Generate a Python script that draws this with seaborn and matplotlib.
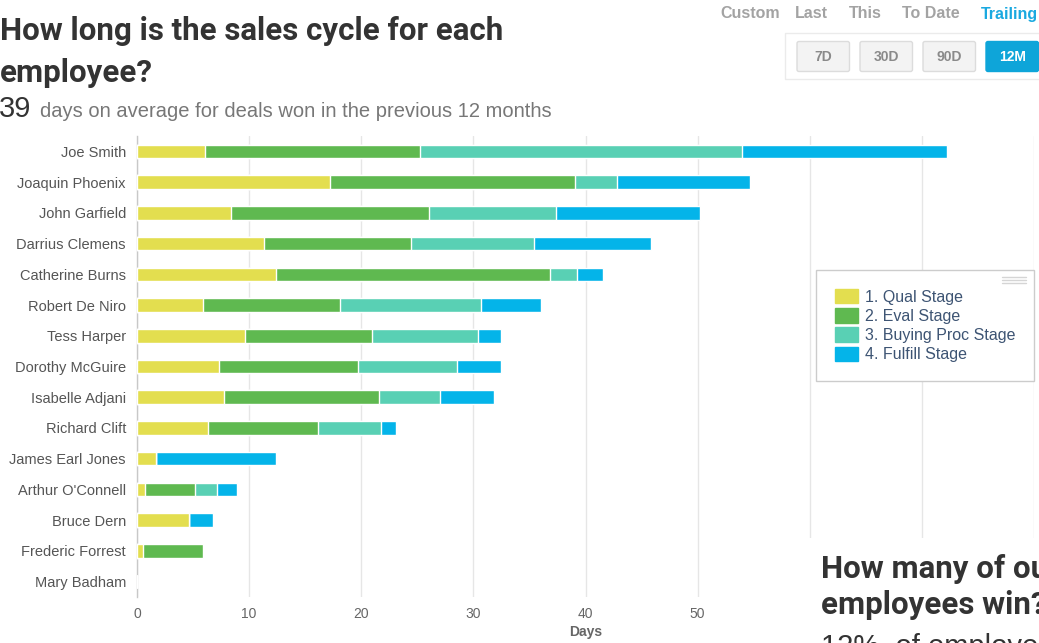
import matplotlib
matplotlib.use("Agg")
import matplotlib.pyplot as plt
from matplotlib.patches import Patch, FancyBboxPatch, Rectangle
from matplotlib.lines import Line2D
from matplotlib.transforms import Affine2D
import numpy as np
import pandas as pd
import seaborn as sns

# ---- data -------------------------------------------------------------
employees = [
    "Joe Smith", "Joaquin Phoenix", "John Garfield", "Darrius Clemens",
    "Catherine Burns", "Robert De Niro", "Tess Harper", "Dorothy McGuire",
    "Isabelle Adjani", "Richard Clift", "James Earl Jones", "Arthur O'Connell",
    "Bruce Dern", "Frederic Forrest", "Mary Badham",
]
qual_days = [6.1, 17.2, 8.4, 11.3, 12.4, 5.9, 9.6, 7.3, 7.8, 6.3, 1.7, 0.7, 4.6, 0.5, 0]
eval_days = [19.1, 21.9, 17.6, 13.1, 24.4, 12.2, 11.4, 12.4, 13.8, 9.8, 0, 4.5, 0, 5.4, 0]
buying_days = [28.8, 3.7, 11.4, 11.0, 2.4, 12.6, 9.4, 8.8, 5.4, 5.7, 0, 1.9, 0, 0, 0]
fulfill_days = [18.2, 11.9, 12.8, 10.4, 2.4, 5.3, 2.1, 4.0, 4.8, 1.3, 10.7, 1.8, 2.2, 0, 0]

stage_labels = ["1. Qual Stage", "2. Eval Stage", "3. Buying Proc Stage", "4. Fulfill Stage"]
stage_colors = ["#e3de4f", "#5fb950", "#59d0b4", "#04b4e9"]
x_ticks = [0, 10, 20, 30, 40, 50, 60, 70, 80]

avg_days = "39"
subtitle = "days on average for deals won in the previous 12 months"
period_tabs = ["Custom", "Last", "This", "To Date", "Trailing"]
range_buttons = ["7D", "30D", "90D", "12M"]

# ---- figure -----------------------------------------------------------
W, H = 1039, 643
sns.set_theme(style="white")
plt.rcParams["font.family"] = ["Liberation Sans", "DejaVu Sans"]

fig = plt.figure(figsize=(W / 100, H / 100), dpi=100)
fig.patch.set_facecolor("white")
# pixel coordinates, origin at top-left
pix = Affine2D().scale(1 / W, -1 / H).translate(0, 1) + fig.transFigure

ax_left, ax_right, ax_top, ax_bottom = 137, 1034, 136, 597
ax = fig.add_axes([ax_left / W, 1 - ax_bottom / H,
                   (ax_right - ax_left) / W, (ax_bottom - ax_top) / H])

df = pd.DataFrame({
    "employee": employees,
    "qual": qual_days,
    "eval": eval_days,
    "buying": buying_days,
    "fulfill": fulfill_days,
})
stage_cols = ["qual", "eval", "buying", "fulfill"]
cum = df[stage_cols].cumsum(axis=1)
for col in stage_cols:
    df["end_" + col] = cum[col]

# stacked bars: draw the running totals from the longest down
for col, color in reversed(list(zip(stage_cols, stage_colors))):
    sns.barplot(data=df, x="end_" + col, y="employee", order=employees,
                color=color, saturation=1, width=0.44, errorbar=None,
                edgecolor="white", linewidth=1, orient="h", ax=ax, zorder=3)

ax.set_xlim(0, 80)
ax.set_xticks(x_ticks)
ax.set_xticklabels([str(t) for t in x_ticks])
ax.xaxis.grid(True, color="#e6e6e6", linewidth=1, zorder=0)
ax.yaxis.grid(False)
ax.set_axisbelow(True)
for s in ["top", "right", "bottom"]:
    ax.spines[s].set_visible(False)
ax.spines["left"].set_color("#c8c8c8")
ax.spines["left"].set_linewidth(1)
ax.tick_params(axis="y", length=0, pad=8, labelsize=10.5, labelcolor="#555555")
ax.tick_params(axis="x", length=0, pad=7, labelsize=10, labelcolor="#666666")
ax.set_ylabel("")
ax.set_xlabel("Days", fontsize=10, color="#666666", fontweight="bold", labelpad=3)

handles = [Patch(facecolor=c, edgecolor=c, label=l) for c, l in zip(stage_colors, stage_labels)]
leg = ax.legend(handles=handles, loc="upper left",
                bbox_to_anchor=(816 / W, 1 - 270 / H), bbox_transform=fig.transFigure,
                frameon=True, fancybox=False, edgecolor="#cccccc", facecolor="white",
                framealpha=1, fontsize=11.5, labelcolor="#3d5473", borderpad=1.2,
                handlelength=1.4, handleheight=1.0, handletextpad=0.45,
                labelspacing=0.22, borderaxespad=0)
leg.get_frame().set_linewidth(1)

# menu glyph in the legend corner
for yy in (277, 280, 283):
    fig.add_artist(Line2D([1002, 1026], [yy, yy], transform=pix, color="#d5d5d5",
                          linewidth=1, zorder=20))

# ---- headings ---------------------------------------------------------
fig.text(0, 40, "How long is the sales cycle for each", transform=pix,
         fontfamily="Roboto", fontweight="bold", fontsize=22.5, color="#333333",
         va="baseline", ha="left")
fig.text(0, 82, "employee?", transform=pix,
         fontfamily="Roboto", fontweight="bold", fontsize=22.5, color="#333333",
         va="baseline", ha="left")
fig.text(-1, 117, avg_days, transform=pix, fontsize=21, color="#333333",
         va="baseline", ha="left")
fig.text(40, 117, subtitle, transform=pix, fontsize=14.5, color="#777777",
         va="baseline", ha="left")

# ---- period selector --------------------------------------------------
tab_x = [720, 795, 849, 902, 981]
for label, x in zip(period_tabs, tab_x):
    fig.text(x, 14, label, transform=pix, fontsize=11.5, fontweight="bold",
             color="#1aa9e0" if label == "Trailing" else "#a3a3a3",
             va="center", ha="left")

fig.add_artist(Rectangle((785, 33), 260, 46, transform=pix, facecolor="white",
                         edgecolor="#ebebeb", linewidth=1, zorder=5))
btn_x = [797, 860, 923, 986]
for label, x in zip(range_buttons, btn_x):
    active = label == "12M"
    fig.add_artist(FancyBboxPatch((x, 41.5), 52.5, 30, transform=pix,
                                  boxstyle="round,pad=0,rounding_size=2",
                                  facecolor="#0ea5d9" if active else "#f3f3f3",
                                  edgecolor="#0ea5d9" if active else "#dcdcdc",
                                  linewidth=1, zorder=6))
    fig.text(x + 26.5, 57, label, transform=pix, fontsize=10, fontweight="bold",
             color="white" if active else "#8a8a8a", ha="center", va="center", zorder=7)

# ---- next panel heading, lower right ----------------------------------
fig.add_artist(Rectangle((797, 538), 250, 110, transform=pix, facecolor="white",
                         edgecolor="none", zorder=10))
fig.text(821, 578, "How many of our", transform=pix, fontfamily="Roboto",
         fontweight="bold", fontsize=22.5, color="#333333", va="baseline",
         ha="left", zorder=11)
fig.text(821, 614, "employees win?", transform=pix, fontfamily="Roboto",
         fontweight="bold", fontsize=22.5, color="#333333", va="baseline",
         ha="left", zorder=11)
fig.text(821, 655, "12%  of employees won a deal", transform=pix, fontsize=21,
         color="#333333", va="baseline", ha="left", zorder=11)

fig.savefig("out.png", dpi=100, facecolor="white")
